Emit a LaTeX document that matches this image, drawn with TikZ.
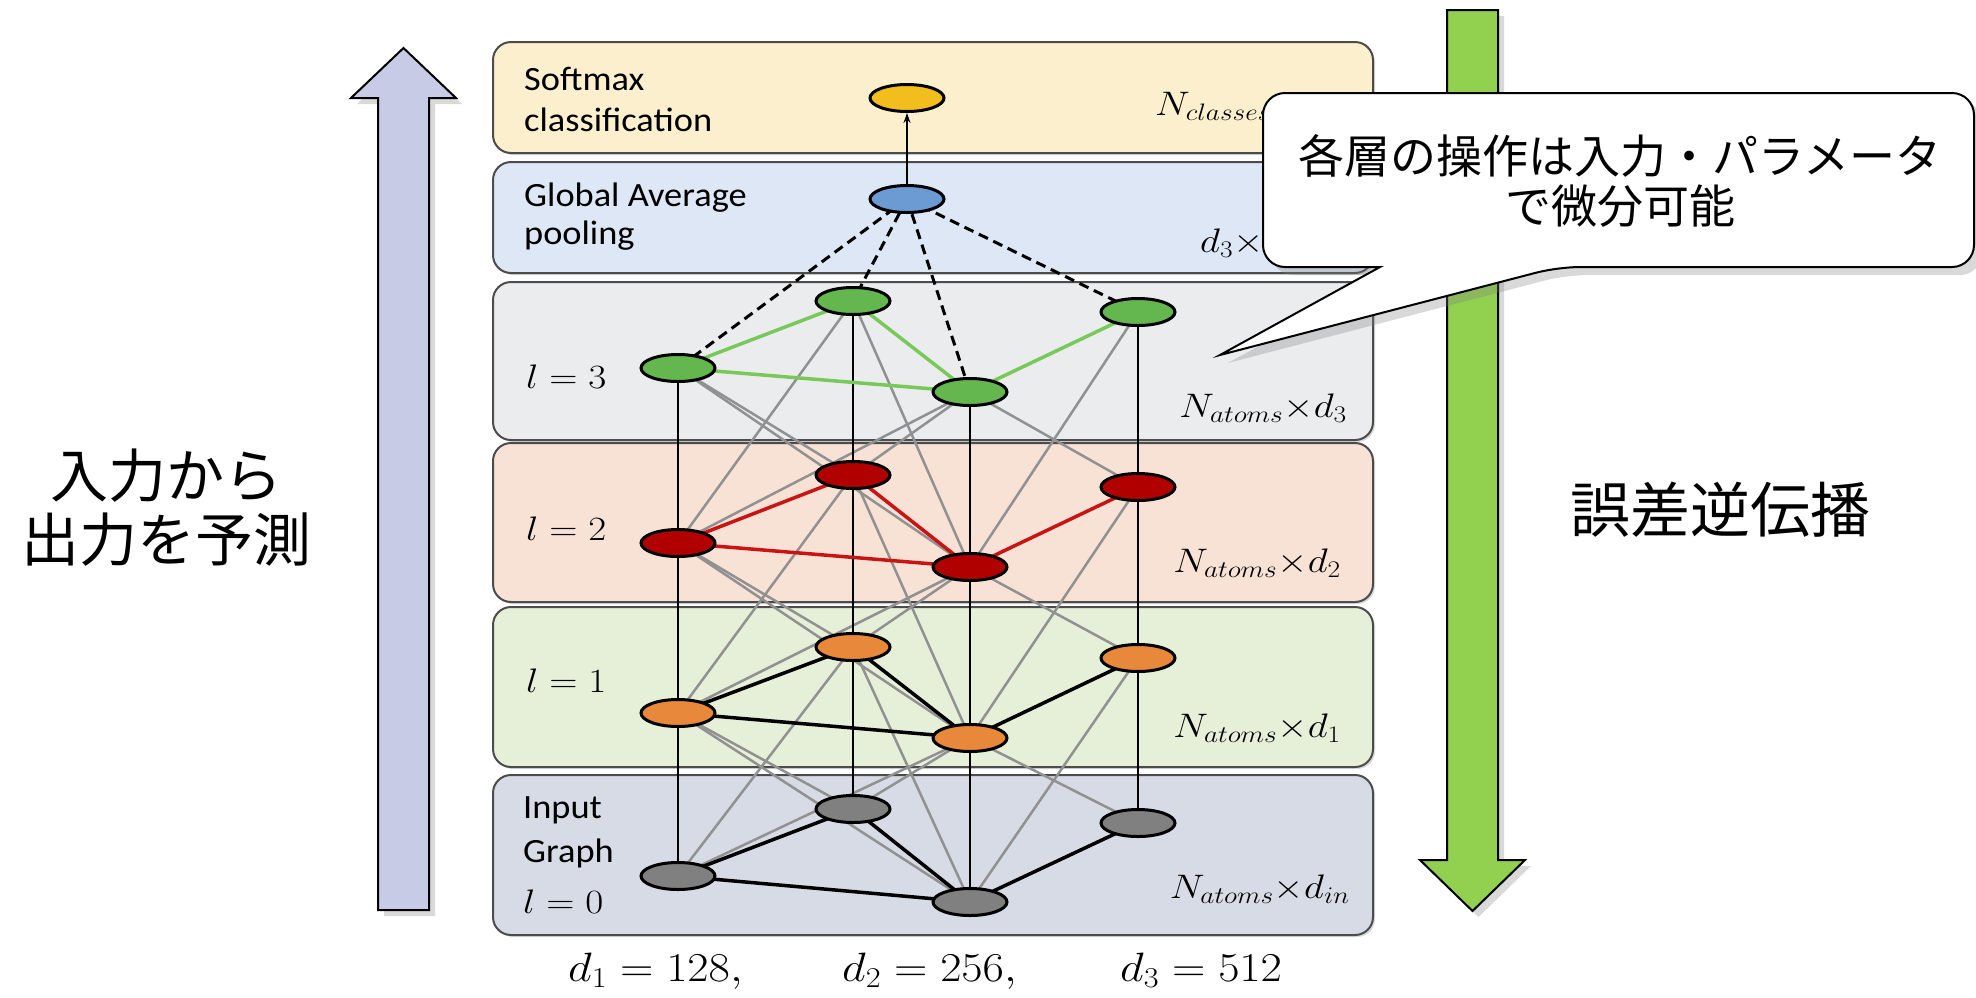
\RequirePackage{fix-cm}
\documentclass[tikz,border=0pt]{standalone}
\usepackage{fontspec}
\newfontfamily\carl{Carlito}
\newfontfamily\cjk{Noto Sans CJK JP}
\usetikzlibrary{shapes.geometric,shadows,arrows.meta}
\pgfdeclarelayer{back}
\pgfdeclarelayer{mid}
\pgfsetlayers{back,mid,main}
\definecolor{boxSM}{RGB}{251,239,205}
\definecolor{boxGAP}{RGB}{222,231,245}
\definecolor{boxLiii}{RGB}{235,236,238}
\definecolor{boxLii}{RGB}{247,226,213}
\definecolor{boxLi}{RGB}{230,240,217}
\definecolor{boxLo}{RGB}{214,219,229}
\definecolor{nSM}{RGB}{242,190,30}
\definecolor{nGAP}{RGB}{108,155,212}
\definecolor{nLiii}{RGB}{100,182,78}
\definecolor{nLii}{RGB}{176,0,0}
\definecolor{nLi}{RGB}{232,136,58}
\definecolor{nLo}{RGB}{128,128,128}
\definecolor{eLiii}{RGB}{120,200,90}
\definecolor{eLii}{RGB}{200,20,20}
\definecolor{purp}{RGB}{200,203,230}
\definecolor{grn}{RGB}{146,208,80}
\definecolor{crossc}{RGB}{145,145,145}
\begin{document}
\begin{tikzpicture}[x=1pt,y=-1pt,
  layerbox/.style={draw=black!70, line width=2pt, rounded corners=18pt,
    drop shadow={shadow xshift=2pt, shadow yshift=-2pt, opacity=0.3}},
  atom/.style={ellipse, draw=black, line width=3pt, minimum width=74pt, minimum height=27pt, inner sep=0pt},
  crossline/.style={draw=crossc, line width=2.5pt},
  vertline/.style={draw=black, line width=2.8pt},
  bond/.style={line width=3.5pt},
  mlabel/.style={font=\fontsize{34}{40}\selectfont, xscale=1.15, transform shape, inner sep=0pt},
  slabel/.style={font=\carl\fontsize{34}{42}\selectfont, xscale=1.07, transform shape, inner sep=0pt},
  blabel/.style={font=\fontsize{41}{48}\selectfont, xscale=1.13, transform shape, inner sep=0pt},
  bigarrow/.style={draw=black, line width=2pt, drop shadow={shadow xshift=6pt, shadow yshift=-6pt, opacity=0.3}},
  callout/.style={draw=black, line width=2pt, fill=white, drop shadow={shadow xshift=8pt, shadow yshift=-8pt, opacity=0.3}},
  jtext/.style={font=\cjk, inner sep=0pt, align=center}
]
\useasboundingbox (0,0) rectangle (1976,997);

% big arrows and layer boxes
\begin{pgfonlayer}{back}
\path[bigarrow, fill=purp] (378,910) -- (378,98) -- (351,98) -- (403.5,48) -- (456,98) -- (429,98) -- (429,910) -- cycle;
\path[bigarrow, fill=grn] (1447,10) -- (1447,860) -- (1420,860) -- (1472.5,911) -- (1525,860) -- (1498,860) -- (1498,10) -- cycle;
\path[layerbox, fill=boxSM] (493,42) rectangle (1373,153);
\path[layerbox, fill=boxGAP] (493,162) rectangle (1373,273);
\path[layerbox, fill=boxLiii] (493,282) rectangle (1373,440);
\path[layerbox, fill=boxLii] (493,443) rectangle (1373,602);
\path[layerbox, fill=boxLi] (493,607) rectangle (1373,767);
\path[layerbox, fill=boxLo] (493,775) rectangle (1373,935);
\end{pgfonlayer}

% atoms
\node[atom, fill=nSM] (SM) at (907,98) {};
\node[atom, fill=nGAP] (GAP) at (907,199) {};
\node[atom, fill=nLiii] (A3) at (678,368) {};
\node[atom, fill=nLiii] (B3) at (853,301) {};
\node[atom, fill=nLiii] (C3) at (970,392) {};
\node[atom, fill=nLiii] (D3) at (1138,312) {};
\node[atom, fill=nLii] (A2) at (678,543) {};
\node[atom, fill=nLii] (B2) at (853,475) {};
\node[atom, fill=nLii] (C2) at (970,567) {};
\node[atom, fill=nLii] (D2) at (1138,487) {};
\node[atom, fill=nLi] (A1) at (678,713) {};
\node[atom, fill=nLi] (B1) at (853,647) {};
\node[atom, fill=nLi] (C1) at (970,738) {};
\node[atom, fill=nLi] (D1) at (1138,658) {};
\node[atom, fill=nLo] (A0) at (678,876) {};
\node[atom, fill=nLo] (B0) at (853,809) {};
\node[atom, fill=nLo] (C0) at (970,902) {};
\node[atom, fill=nLo] (D0) at (1138,823) {};

% connectors
\begin{pgfonlayer}{mid}
\foreach \l/\u in {0/1,1/2,2/3}{
  \foreach \i/\j in {A/B,A/C,B/C,C/D}{
    \draw[crossline] (\i\l.center) -- (\j\u.center);
    \draw[crossline] (\j\l.center) -- (\i\u.center);
  }
  \foreach \i in {A,B,C,D}{
    \draw[vertline] (\i\l.center) -- (\i\u.center);
  }
}
\foreach \l/\c in {0/black,1/black,2/eLii,3/eLiii}{
  \foreach \i/\j in {A/B,A/C,B/C,C/D}{
    \draw[bond, draw=\c] (\i\l.center) -- (\j\l.center);
  }
}
\foreach \i in {A,B,C,D}{
  \draw[black, line width=3pt, dash pattern=on 10pt off 6pt] (GAP.center) -- (\i3.center);
}
\end{pgfonlayer}
\draw[line width=1.4pt, -{Stealth[length=10pt,width=7pt]}] (GAP) -- (SM);

% layer labels
\node[slabel, anchor=base west] (tSoft) at (524,90) {Softmax};
\node[slabel, anchor=base west] (tClass) at (524,131) {classification};
\node[slabel, anchor=base west] (tGlob) at (524,206) {Global Average};
\node[slabel, anchor=base west] (tPool) at (524,244) {pooling};
\node[mlabel, anchor=base west] (tL3) at (526,388) {$l = 3$};
\node[mlabel, anchor=base west] (tL2) at (526,540) {$l = 2$};
\node[mlabel, anchor=base west] (tL1) at (526,692) {$l = 1$};
\node[slabel, anchor=base west] (tInput) at (523,818) {Input};
\node[slabel, anchor=base west] (tGraph) at (523,862) {Graph};
\node[mlabel, anchor=base west] (tL0) at (523,913) {$l = 0$};

\node[mlabel, anchor=base west] (nCl) at (1155,115) {$N_{classes}{\times}1$};
\node[mlabel, anchor=base west] (nGap) at (1200,252) {$d_3{\times}1$};
\node[mlabel, anchor=base east] (nL3) at (1347,417) {$N_{atoms}{\times}d_3$};
\node[mlabel, anchor=base east] (nL2) at (1341,572) {$N_{atoms}{\times}d_2$};
\node[mlabel, anchor=base east] (nL1) at (1341,737) {$N_{atoms}{\times}d_1$};
\node[mlabel, anchor=base east] (nL0) at (1350,898) {$N_{atoms}{\times}d_{in}$};

\node[blabel, anchor=base west] (dI) at (568,981) {$d_1 = 128,$};
\node[blabel, anchor=base west] (dII) at (842,981) {$d_2 = 256,$};
\node[blabel, anchor=base west] (dIII) at (1120,981) {$d_3 = 512$};

% side texts
\node[jtext, font=\cjk\fontsize{58}{64}\selectfont] (fwd) at (166,508) {入力から\\出力を予測};
\node[jtext, font=\cjk\fontsize{60}{66}\selectfont] (bwd) at (1720,510) {誤差逆伝播};

% callout
\path[callout] (1380,267) [rounded corners=22pt] -- (1263,267) -- (1263,93) -- (1974,93) -- (1974,267) -- (1558,267) [sharp corners] -- (1220,355) -- cycle;
\node[jtext, font=\cjk\fontsize{46}{50}\selectfont] (note) at (1620,181) {各層の操作は入力・パラメータ\\で微分可能};
\end{tikzpicture}
\end{document}
